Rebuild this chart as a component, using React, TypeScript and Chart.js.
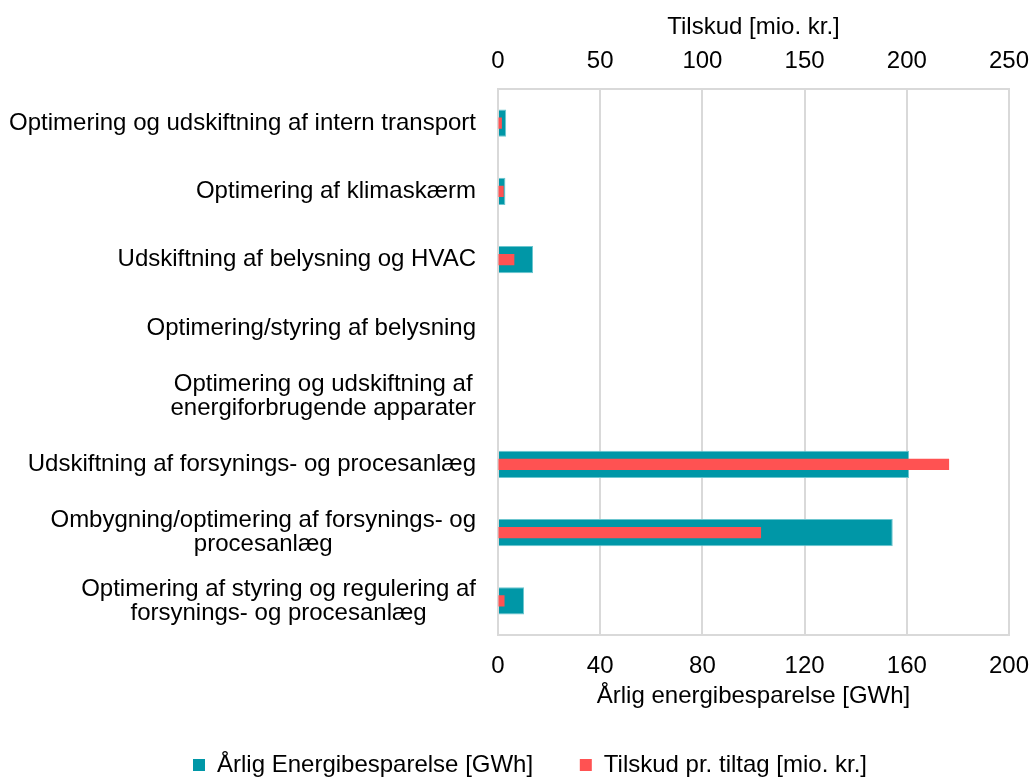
import React, { useEffect, useRef } from "react";
import { Chart, registerables } from "chart.js";

Chart.register(...registerables);

const categories: (string | string[])[] = [
  "Optimering og udskiftning af intern transport",
  "Optimering af klimaskærm",
  "Udskiftning af belysning og HVAC",
  "Optimering/styring af belysning",
  ["Optimering og udskiftning af", "energiforbrugende apparater"],
  "Udskiftning af forsynings- og procesanlæg",
  ["Ombygning/optimering af forsynings- og", "procesanlæg"],
  ["Optimering af styring og regulering af", "forsynings- og procesanlæg"],
];

const energySavings = [3.2, 2.9, 13.7, 0, 0, 160.9, 154.5, 10.2];
const subsidies = [1.9, 2.8, 8.0, 0, 0, 220.7, 128.7, 3.2];

const energyLabel = "Årlig Energibesparelse [GWh]";
const subsidyLabel = "Tilskud pr. tiltag [mio. kr.]";
const bottomAxisTitle = "Årlig energibesparelse [GWh]";
const topAxisTitle = "Tilskud [mio. kr.]";

const TEAL = "#0097A7";
const RED = "#FF5252";
const GRID = "#D9D9D9";
const FONT = "'Liberation Sans', Arial, sans-serif";
const FS = 24;

const yLabelPlugin = {
  id: "yLabelPlugin",
  afterLayout(chart: any) {
    const l = chart.legend;
    if (l) {
      l.left += 7;
      l.right += 7;
    }
  },
  afterDraw(chart: any) {
    const scale = chart.scales.y;
    const ctx = chart.ctx;
    ctx.save();
    ctx.font = `${FS}px ${FONT}`;
    ctx.fillStyle = "#000";
    ctx.textAlign = "center";
    ctx.textBaseline = "middle";
    const right = scale.right - 22;
    const lh = 24;
    categories.forEach((lab, i) => {
      const lines = Array.isArray(lab) ? lab : [lab];
      const w = Math.max(...lines.map((l) => ctx.measureText(l).width));
      const cx = right - w / 2;
      const cy = scale.getPixelForTick(i);
      const y0 = cy - ((lines.length - 1) * lh) / 2;
      lines.forEach((l, j) => ctx.fillText(l, cx, y0 + j * lh));
    });
    ctx.restore();
  },
};

export default function App() {
  const ref = useRef<HTMLCanvasElement | null>(null);
  useEffect(() => {
    if (!ref.current) return;
    const chart = new Chart(ref.current, {
      type: "bar",
      data: {
        labels: categories,
        datasets: [
          {
            label: energyLabel,
            data: energySavings,
            backgroundColor: TEAL,
            borderColor: "#6CC6CF",
            borderWidth: 1,
            xAxisID: "x",
            grouped: false,
            barPercentage: 0.4,
            categoryPercentage: 1,
            order: 2,
          } as any,
          {
            label: subsidyLabel,
            data: subsidies,
            backgroundColor: RED,
            borderWidth: 0,
            xAxisID: "x2",
            grouped: false,
            barPercentage: 0.165,
            categoryPercentage: 1,
            order: 1,
          } as any,
        ],
      },
      plugins: [yLabelPlugin],
      options: {
        indexAxis: "y",
        responsive: true,
        maintainAspectRatio: false,
        animation: false,
        layout: { padding: { left: 14, right: 0, top: 9, bottom: -9 } },
        font: { family: FONT, size: FS },
        scales: {
          x: {
            position: "bottom",
            min: 0,
            max: 200,
            ticks: { stepSize: 40, color: "#000", font: { family: FONT, size: FS }, padding: 17 },
            grid: { color: GRID, lineWidth: 2, drawTicks: false },
            border: { color: GRID, width: 2 },
            title: {
              display: true,
              text: bottomAxisTitle,
              color: "#000",
              font: { family: FONT, size: FS },
              padding: { top: 0, bottom: 22 },
            },
            afterFit: (s: any) => {
              s.height = 98;
              s.paddingRight = 23;
              s.paddingLeft = 0;
            },
          },
          x2: {
            position: "top",
            min: 0,
            max: 250,
            ticks: { stepSize: 50, color: "#000", font: { family: FONT, size: FS }, padding: 13 },
            grid: { drawOnChartArea: false, drawTicks: false },
            border: { color: GRID, width: 2 },
            title: {
              display: true,
              text: topAxisTitle,
              color: "#000",
              font: { family: FONT, size: FS },
              padding: { top: 4, bottom: 0 },
            },
            afterFit: (s: any) => {
              s.height = 80;
              s.paddingRight = 23;
              s.paddingLeft = 0;
            },
          },
          y: {
            ticks: {
              color: "rgba(0,0,0,0)",
              font: { family: FONT, size: FS },
              padding: 22,
            },
            grid: { display: false, drawTicks: false },
            border: { color: GRID, width: 2 },
            afterFit: (s: any) => {
              s.width = 484;
            },
          },
        },
        plugins: {
          legend: {
            position: "bottom",
            labels: {
              color: "#000",
              font: { family: FONT, size: FS },
              boxWidth: 12,
              boxHeight: 12,
              padding: 20,
              sort: (a: any, b: any) => a.datasetIndex - b.datasetIndex,
              generateLabels: (ch: any) => {
                const items = Chart.defaults.plugins.legend.labels.generateLabels(ch);
                return items.map((it: any) => ({
                  ...it,
                  lineWidth: 0,
                  text: it.datasetIndex === 0 ? it.text + "    " : it.text,
                }));
              },
            },
          },
          tooltip: { enabled: false },
        },
      },
    });
    return () => chart.destroy();
  }, []);
  return (
    <div style={{ position: "fixed", left: 0, top: 0, width: 1032, height: 778, background: "#fff" }}>
      <canvas ref={ref} />
    </div>
  );
}
